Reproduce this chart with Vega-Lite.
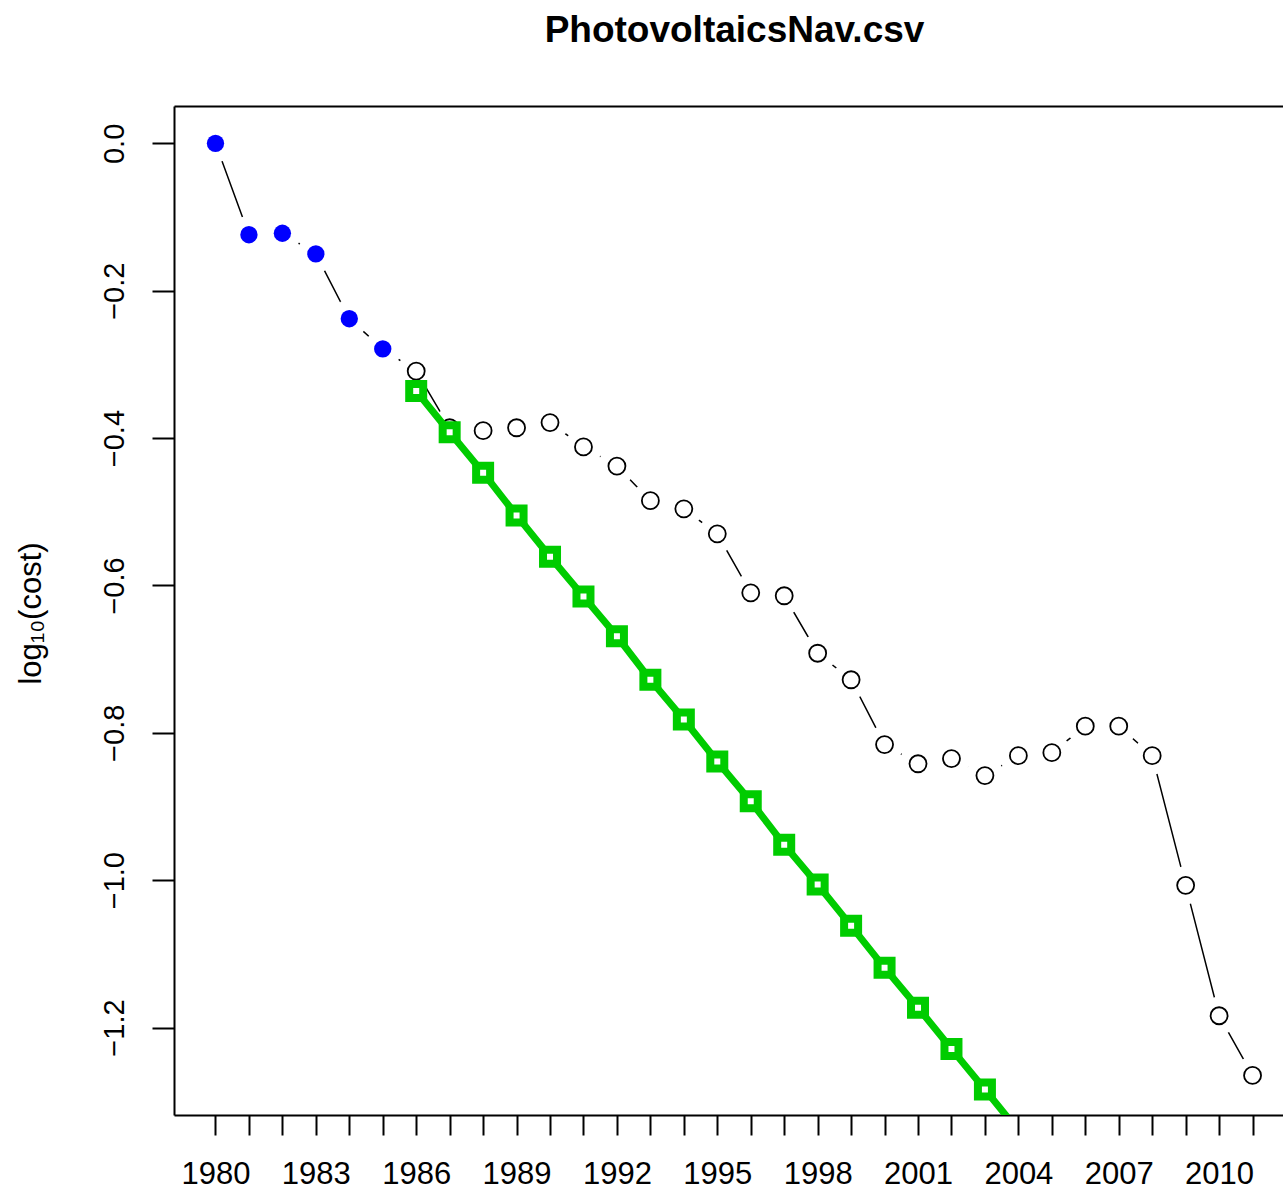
{
  "$schema": "https://vega.github.io/schema/vega-lite/v6.json",
  "width": 1109,
  "height": 1009,
  "autosize": "none",
  "padding": {"left": 174, "top": 106, "right": 0, "bottom": 80},
  "background": "white",
  "title": {
    "text": "PhotovoltaicsNav.csv",
    "anchor": "middle",
    "baseline": "alphabetic",
    "offset": 27,
    "dx": 6,
    "font": "Liberation Sans",
    "fontSize": 37,
    "fontWeight": "bold",
    "color": "black"
  },
  "config": {
    "view": {"stroke": null},
    "axis": {
      "grid": false,
      "domainColor": "black",
      "domainWidth": 2,
      "tickColor": "black",
      "tickWidth": 2,
      "labelFont": "Liberation Sans",
      "labelColor": "black",
      "titleFont": "Liberation Sans",
      "titleColor": "black",
      "titleFontWeight": "normal"
    }
  },
  "datasets": {
    "observed": [
      {"year": 1980, "log_cost": 0.0},
      {"year": 1981, "log_cost": -0.124},
      {"year": 1982, "log_cost": -0.122},
      {"year": 1983, "log_cost": -0.150},
      {"year": 1984, "log_cost": -0.238},
      {"year": 1985, "log_cost": -0.279},
      {"year": 1986, "log_cost": -0.309},
      {"year": 1987, "log_cost": -0.386},
      {"year": 1988, "log_cost": -0.390},
      {"year": 1989, "log_cost": -0.386},
      {"year": 1990, "log_cost": -0.379},
      {"year": 1991, "log_cost": -0.412},
      {"year": 1992, "log_cost": -0.438},
      {"year": 1993, "log_cost": -0.485},
      {"year": 1994, "log_cost": -0.496},
      {"year": 1995, "log_cost": -0.530},
      {"year": 1996, "log_cost": -0.610},
      {"year": 1997, "log_cost": -0.614},
      {"year": 1998, "log_cost": -0.692},
      {"year": 1999, "log_cost": -0.728},
      {"year": 2000, "log_cost": -0.816},
      {"year": 2001, "log_cost": -0.842},
      {"year": 2002, "log_cost": -0.835},
      {"year": 2003, "log_cost": -0.858},
      {"year": 2004, "log_cost": -0.831},
      {"year": 2005, "log_cost": -0.827},
      {"year": 2006, "log_cost": -0.791},
      {"year": 2007, "log_cost": -0.791},
      {"year": 2008, "log_cost": -0.831},
      {"year": 2009, "log_cost": -1.007},
      {"year": 2010, "log_cost": -1.184},
      {"year": 2011, "log_cost": -1.265}
    ],
    "trend": [
      {"year": 1986, "log_cost": -0.336},
      {"year": 1987, "log_cost": -0.392},
      {"year": 1988, "log_cost": -0.447},
      {"year": 1989, "log_cost": -0.505},
      {"year": 1990, "log_cost": -0.561},
      {"year": 1991, "log_cost": -0.615},
      {"year": 1992, "log_cost": -0.669},
      {"year": 1993, "log_cost": -0.728},
      {"year": 1994, "log_cost": -0.782},
      {"year": 1995, "log_cost": -0.839},
      {"year": 1996, "log_cost": -0.893},
      {"year": 1997, "log_cost": -0.952},
      {"year": 1998, "log_cost": -1.006},
      {"year": 1999, "log_cost": -1.062},
      {"year": 2000, "log_cost": -1.119},
      {"year": 2001, "log_cost": -1.173},
      {"year": 2002, "log_cost": -1.229},
      {"year": 2003, "log_cost": -1.284},
      {"year": 2004, "log_cost": -1.340}
    ]
  },
  "resolve": {"axis": {"x": "independent", "y": "independent"}},
  "layer": [
    {
      "data": {"name": "observed"},
      "mark": {"type": "line", "color": "black", "strokeWidth": 1.5},
      "encoding": {
        "x": {
          "field": "year", "type": "quantitative",
          "scale": {"domain": [1978.76, 2011.91], "nice": false, "zero": false},
          "axis": {
            "orient": "bottom",
            "values": [1980, 1981, 1982, 1983, 1984, 1985, 1986, 1987, 1988, 1989, 1990, 1991, 1992, 1993, 1994, 1995, 1996, 1997, 1998, 1999, 2000, 2001, 2002, 2003, 2004, 2005, 2006, 2007, 2008, 2009, 2010, 2011],
            "format": "d",
            "labelExpr": "(datum.value - 1980) % 3 == 0 ? datum.label : ''",
            "labelFontSize": 31,
            "labelBaseline": "alphabetic",
            "labelPadding": 48,
            "labelOverlap": false,
            "labelFlush": false,
            "tickSize": 20,
            "title": null
          }
        },
        "y": {
          "field": "log_cost", "type": "quantitative",
          "scale": {"domain": [-1.3187, 0.0507], "nice": false, "zero": false},
          "axis": {
            "orient": "left",
            "values": [-1.2, -1.0, -0.8, -0.6, -0.4, -0.2, 0.0],
            "format": ".1f",
            "labelFontSize": 29,
            "labelAngle": 270,
            "labelAlign": "center",
            "labelBaseline": "alphabetic",
            "labelPadding": 29,
            "labelOverlap": false,
            "labelFlush": false,
            "tickSize": 22,
            "title": "log₁₀(cost)",
            "titleFontSize": 31,
            "titleAngle": 270,
            "titleAlign": "center",
            "titleBaseline": "alphabetic",
            "titleX": -134,
            "titleY": 507
          }
        }
      }
    },
    {
      "data": {"name": "observed"},
      "mark": {"type": "point", "shape": "circle", "filled": true, "color": "white", "opacity": 1, "size": 1444},
      "encoding": {
        "x": {
          "field": "year", "type": "quantitative",
          "axis": {"orient": "top", "labels": false, "ticks": false, "title": null, "domain": true}
        },
        "y": {"field": "log_cost", "type": "quantitative", "axis": null}
      }
    },
    {
      "data": {"name": "observed"},
      "transform": [{"filter": "datum.year >= 1986"}],
      "mark": {"type": "point", "shape": "circle", "filled": false, "stroke": "black", "strokeWidth": 1.8, "opacity": 1, "size": 289},
      "encoding": {
        "x": {"field": "year", "type": "quantitative", "axis": null},
        "y": {"field": "log_cost", "type": "quantitative", "axis": null}
      }
    },
    {
      "data": {"name": "observed"},
      "transform": [{"filter": "datum.year <= 1985"}],
      "mark": {"type": "point", "shape": "circle", "filled": true, "color": "#0000FF", "opacity": 1, "size": 300},
      "encoding": {
        "x": {"field": "year", "type": "quantitative", "axis": null},
        "y": {"field": "log_cost", "type": "quantitative", "axis": null}
      }
    },
    {
      "data": {"name": "trend"},
      "mark": {"type": "line", "color": "#00CC00", "strokeWidth": 7, "clip": true},
      "encoding": {
        "x": {"field": "year", "type": "quantitative", "axis": null},
        "y": {"field": "log_cost", "type": "quantitative", "axis": null}
      }
    },
    {
      "data": {"name": "trend"},
      "transform": [{"filter": "datum.year <= 2003"}],
      "mark": {"type": "point", "shape": "square", "filled": false, "fill": "white", "fillOpacity": 1, "stroke": "#00CC00", "strokeWidth": 8, "strokeJoin": "miter", "opacity": 1, "size": 196},
      "encoding": {
        "x": {"field": "year", "type": "quantitative", "axis": null},
        "y": {"field": "log_cost", "type": "quantitative", "axis": null}
      }
    }
  ]
}
